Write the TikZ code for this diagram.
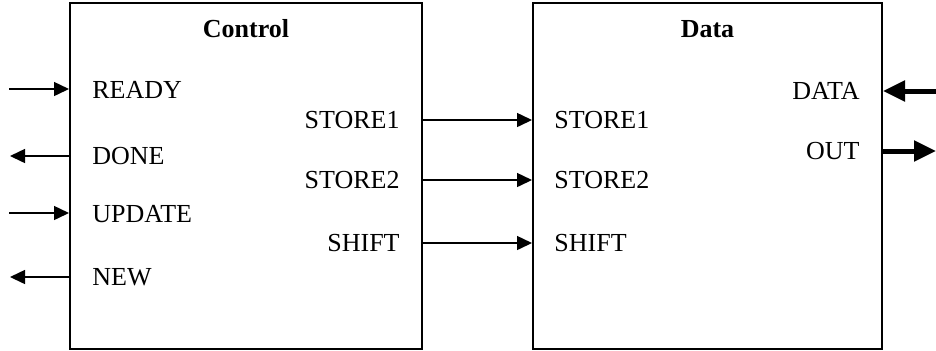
\documentclass[tikz,border=0pt]{standalone}
\usepackage{fontspec}
\setmainfont{Liberation Serif}
\usetikzlibrary{arrows.meta}

\tikzset{
  blk/.style={draw, line width=1pt, minimum height=173pt, inner sep=0pt},
  sig/.style={-{Triangle[length=7.5pt,width=7pt]}, line width=0.75pt},
  bus/.style={-{Triangle[length=11pt,width=10pt]}, line width=2.5pt},
  lbl/.style={inner sep=0pt, font=\fontsize{13}{15}\selectfont},
}

\begin{document}
\begin{tikzpicture}[x=0.5pt, y=-0.5pt]
            \useasboundingbox (0,0) rectangle (936,350);
            \node[blk, minimum width=176pt] (ctrl) at (246,176) {};
            \node[blk, minimum width=174.5pt] (data) at (707.5,176) {};
            \node[lbl, font=\fontsize{13}{15}\selectfont\bfseries] (tctrl) at (246,29) {Control};
            \node[lbl, font=\fontsize{13}{15}\selectfont\bfseries] (tdata) at (707.5,29) {Data};

            % control side
            \node[lbl, anchor=west] (lready) at (92,90) {READY};
            \node[lbl, anchor=west] (ldone) at (92,156) {DONE};
            \node[lbl, anchor=west] (lupdate) at (92,214) {UPDATE};
            \node[lbl, anchor=west] (lnew) at (92,277) {NEW};
            \node[lbl, anchor=east] (cstore1) at (400,120) {STORE1};
            \node[lbl, anchor=east] (cstore2) at (400,180) {STORE2};
            \node[lbl, anchor=east] (cshift) at (400,243) {SHIFT};

            % data side
            \node[lbl, anchor=west] (dstore1) at (554,120) {STORE1};
            \node[lbl, anchor=west] (dstore2) at (554,180) {STORE2};
            \node[lbl, anchor=west] (dshift) at (554,243) {SHIFT};
            \node[lbl, anchor=east] (ldata) at (860,91) {DATA};
            \node[lbl, anchor=east] (lout) at (860,151) {OUT};

            \coordinate (ready) at (9,89);
            \coordinate (done) at (10,156);
            \coordinate (update) at (9,213);
            \coordinate (new) at (10,277);
            \coordinate (datain) at (936,91);
            \coordinate (out) at (936,151);

            \draw[sig] (ready) -- (ready -| ctrl.west);
            \draw[sig] (done -| ctrl.west) -- (done);
            \draw[sig] (update) -- (update -| ctrl.west);
            \draw[sig] (new -| ctrl.west) -- (new);

            \draw[sig] (ctrl.east |- cstore1) -- (data.west |- cstore1);
            \draw[sig] (ctrl.east |- cstore2) -- (data.west |- cstore2);
            \draw[sig] (ctrl.east |- cshift) -- (data.west |- cshift);

            \draw[bus] (datain) -- (datain -| data.east);
            \draw[bus] (out -| data.east) -- (out);
\end{tikzpicture}
\end{document}
